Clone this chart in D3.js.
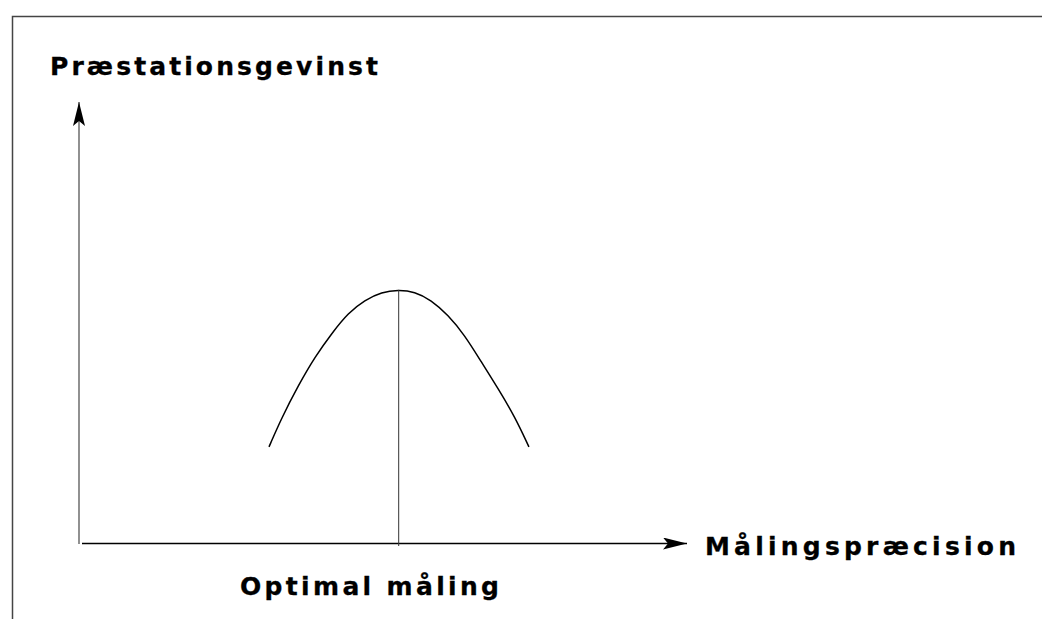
<!DOCTYPE html>
<html>
<head>
	<title>Optimal måling</title>
	<style type="text/css">
		body {
			margin: 0;
			background: #fff;
		}

		.label {
			font-family: "DejaVu Sans", sans-serif;
			font-weight: bold;
			font-size: 25px;
			fill: #000;
			stroke: #000;
			stroke-width: 0.3px;
		}
	</style>
	<script src="https://d3js.org/d3.v7.min.js"></script>
</head>
<body>
<div class="container"></div>
<script type="text/javascript">
	// curve (x = precision, y = gain, both 0..100)
	var precision = [31.25, 33.3, 36.1, 38.8, 41.6, 44.3, 47.0, 49.8, 52.5, 55.2, 57.9, 60.7, 63.4, 66.2, 68.9, 71.7, 74.0];
	var gain      = [21.8, 28.3, 35.8, 42.2, 47.6, 52.2, 55.1, 56.9, 57.4, 57.0, 55.1, 51.7, 47.2, 41.0, 35.1, 28.6, 21.8];
	var optimum   = [52.5, 57.4];

	var yTitle = "Præstationsgevinst",
		xTitle = "Målingspræcision",
		optTitle = "Optimal måling";

	var svg = d3.select(".container").append("svg")
			.attr("width", 1042)
			.attr("height", 619);

	// frame
	svg.append("rect")
		.attr("x", 12.5).attr("y", 16.5)
		.attr("width", 1100).attr("height", 700)
		.attr("fill", "none")
		.attr("stroke", "#444")
		.attr("stroke-width", 1.5);

	var x = d3.scaleLinear().domain([0, 100]).range([79, 687]),
		y = d3.scaleLinear().domain([0, 100]).range([543, 102]);

	var defs = svg.append("defs");
	defs.append("marker")
		.attr("id", "arrow")
		.attr("viewBox", "0 0 24 12")
		.attr("refX", 24).attr("refY", 6)
		.attr("markerWidth", 24).attr("markerHeight", 12)
		.attr("markerUnits", "userSpaceOnUse")
		.attr("orient", "auto")
		.append("path")
		.attr("d", "M0,0 L24,6 L0,12 L5,6 Z")
		.attr("fill", "#000");

	// axes
	svg.append("line")
		.attr("x1", x(0)).attr("y1", y(0) + 1)
		.attr("x2", x(0)).attr("y2", y(100))
		.attr("stroke", "#555").attr("stroke-width", 1.3)
		.attr("marker-end", "url(#arrow)");

	svg.append("line")
		.attr("x1", x(0) + 3).attr("y1", y(0) + 0.5)
		.attr("x2", x(100)).attr("y2", y(0) + 0.5)
		.attr("stroke", "#000").attr("stroke-width", 1.3)
		.attr("marker-end", "url(#arrow)");

	// curve
	var pts = precision.map(function(d, i) { return [d, gain[i]]; });
	var line = d3.line()
		.x(function(d) { return x(d[0]); })
		.y(function(d) { return y(d[1]); })
		.curve(d3.curveBasis);

	svg.append("path")
		.datum(pts)
		.attr("d", line)
		.attr("fill", "none")
		.attr("stroke", "#000")
		.attr("stroke-width", 1.5);

	// optimum marker line
	svg.append("line")
		.attr("x1", x(optimum[0]) + 0.5).attr("y1", y(optimum[1]))
		.attr("x2", x(optimum[0]) + 0.5).attr("y2", y(0) + 3)
		.attr("stroke", "#333").attr("stroke-width", 1);

	// labels
	svg.append("text").attr("class", "label")
		.attr("x", 50).attr("y", 75)
		.attr("textLength", 328).attr("lengthAdjust", "spacing")
		.text(yTitle);

	svg.append("text").attr("class", "label")
		.attr("x", 705).attr("y", 555)
		.attr("textLength", 311).attr("lengthAdjust", "spacing")
		.text(xTitle);

	svg.append("text").attr("class", "label")
		.attr("x", 240).attr("y", 595)
		.attr("textLength", 259).attr("lengthAdjust", "spacing")
		.text(optTitle);
</script>
</body>
</html>
